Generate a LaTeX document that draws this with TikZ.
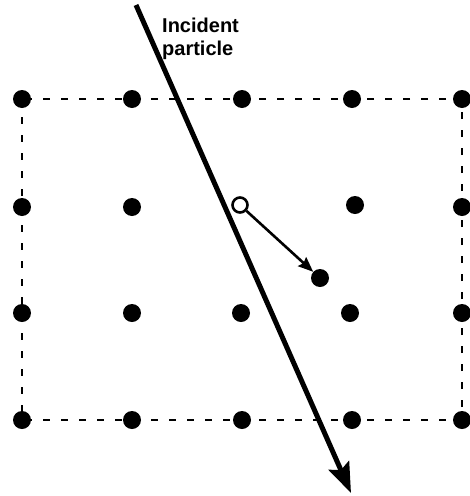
\documentclass[tikz,border=0pt]{standalone}
\usepackage{fontspec}
\setmainfont{Liberation Sans}
\usetikzlibrary{arrows.meta}
\begin{document}
\begin{tikzpicture}[x=1pt,y=-1pt,
  atom/.style={circle,fill=black,inner sep=0pt,minimum size=18pt},
  vacancy/.style={circle,draw=black,fill=white,line width=2.6pt,inner sep=0pt,minimum size=15pt},
  cell/.style={line width=2pt,dash pattern=on 7pt off 11pt},
  track/.style={line width=5pt,-{Stealth[length=30pt,width=22pt,inset=5pt]}},
  recoil/.style={line width=2.6pt,-{Stealth[length=15pt,width=12pt,inset=2pt]}},
  lbl/.style={font=\bfseries\fontsize{20}{23}\selectfont,align=left,inner sep=0pt}]
\useasboundingbox (0,0) rectangle (470,496);
% lattice cell boundary
\draw[cell] (22,99) rectangle (462,420);
% lattice atoms
\foreach \x/\n in {22/a,132/b,242/c,352/d,462/e}{
  \node[atom] (r1\n) at (\x,99) {};
  \node[atom] (r4\n) at (\x,420) {};
}
\node[atom] (r2a) at (22,207) {};
\node[atom] (r2b) at (132,207) {};
\node[atom] (r2d) at (355,205) {};
\node[atom] (r2e) at (462,207) {};
\node[atom] (r3a) at (22,313) {};
\node[atom] (r3b) at (132,313) {};
\node[atom] (r3c) at (241,313) {};
\node[atom] (r3d) at (350,313) {};
\node[atom] (r3e) at (462,313) {};
% vacancy and displaced atom
\node[vacancy] (vac) at (240,205) {};
\node[atom] (pka) at (320,278) {};
\draw[recoil] (vac) -- (pka);
% incident particle track
\coordinate (tstart) at (136,5);
\coordinate (tend) at (351,493);
\draw[track] (tstart) -- (tend);
\node[lbl,anchor=base west] (lab) at (162,55) {Incident\\particle};
\end{tikzpicture}
\end{document}
